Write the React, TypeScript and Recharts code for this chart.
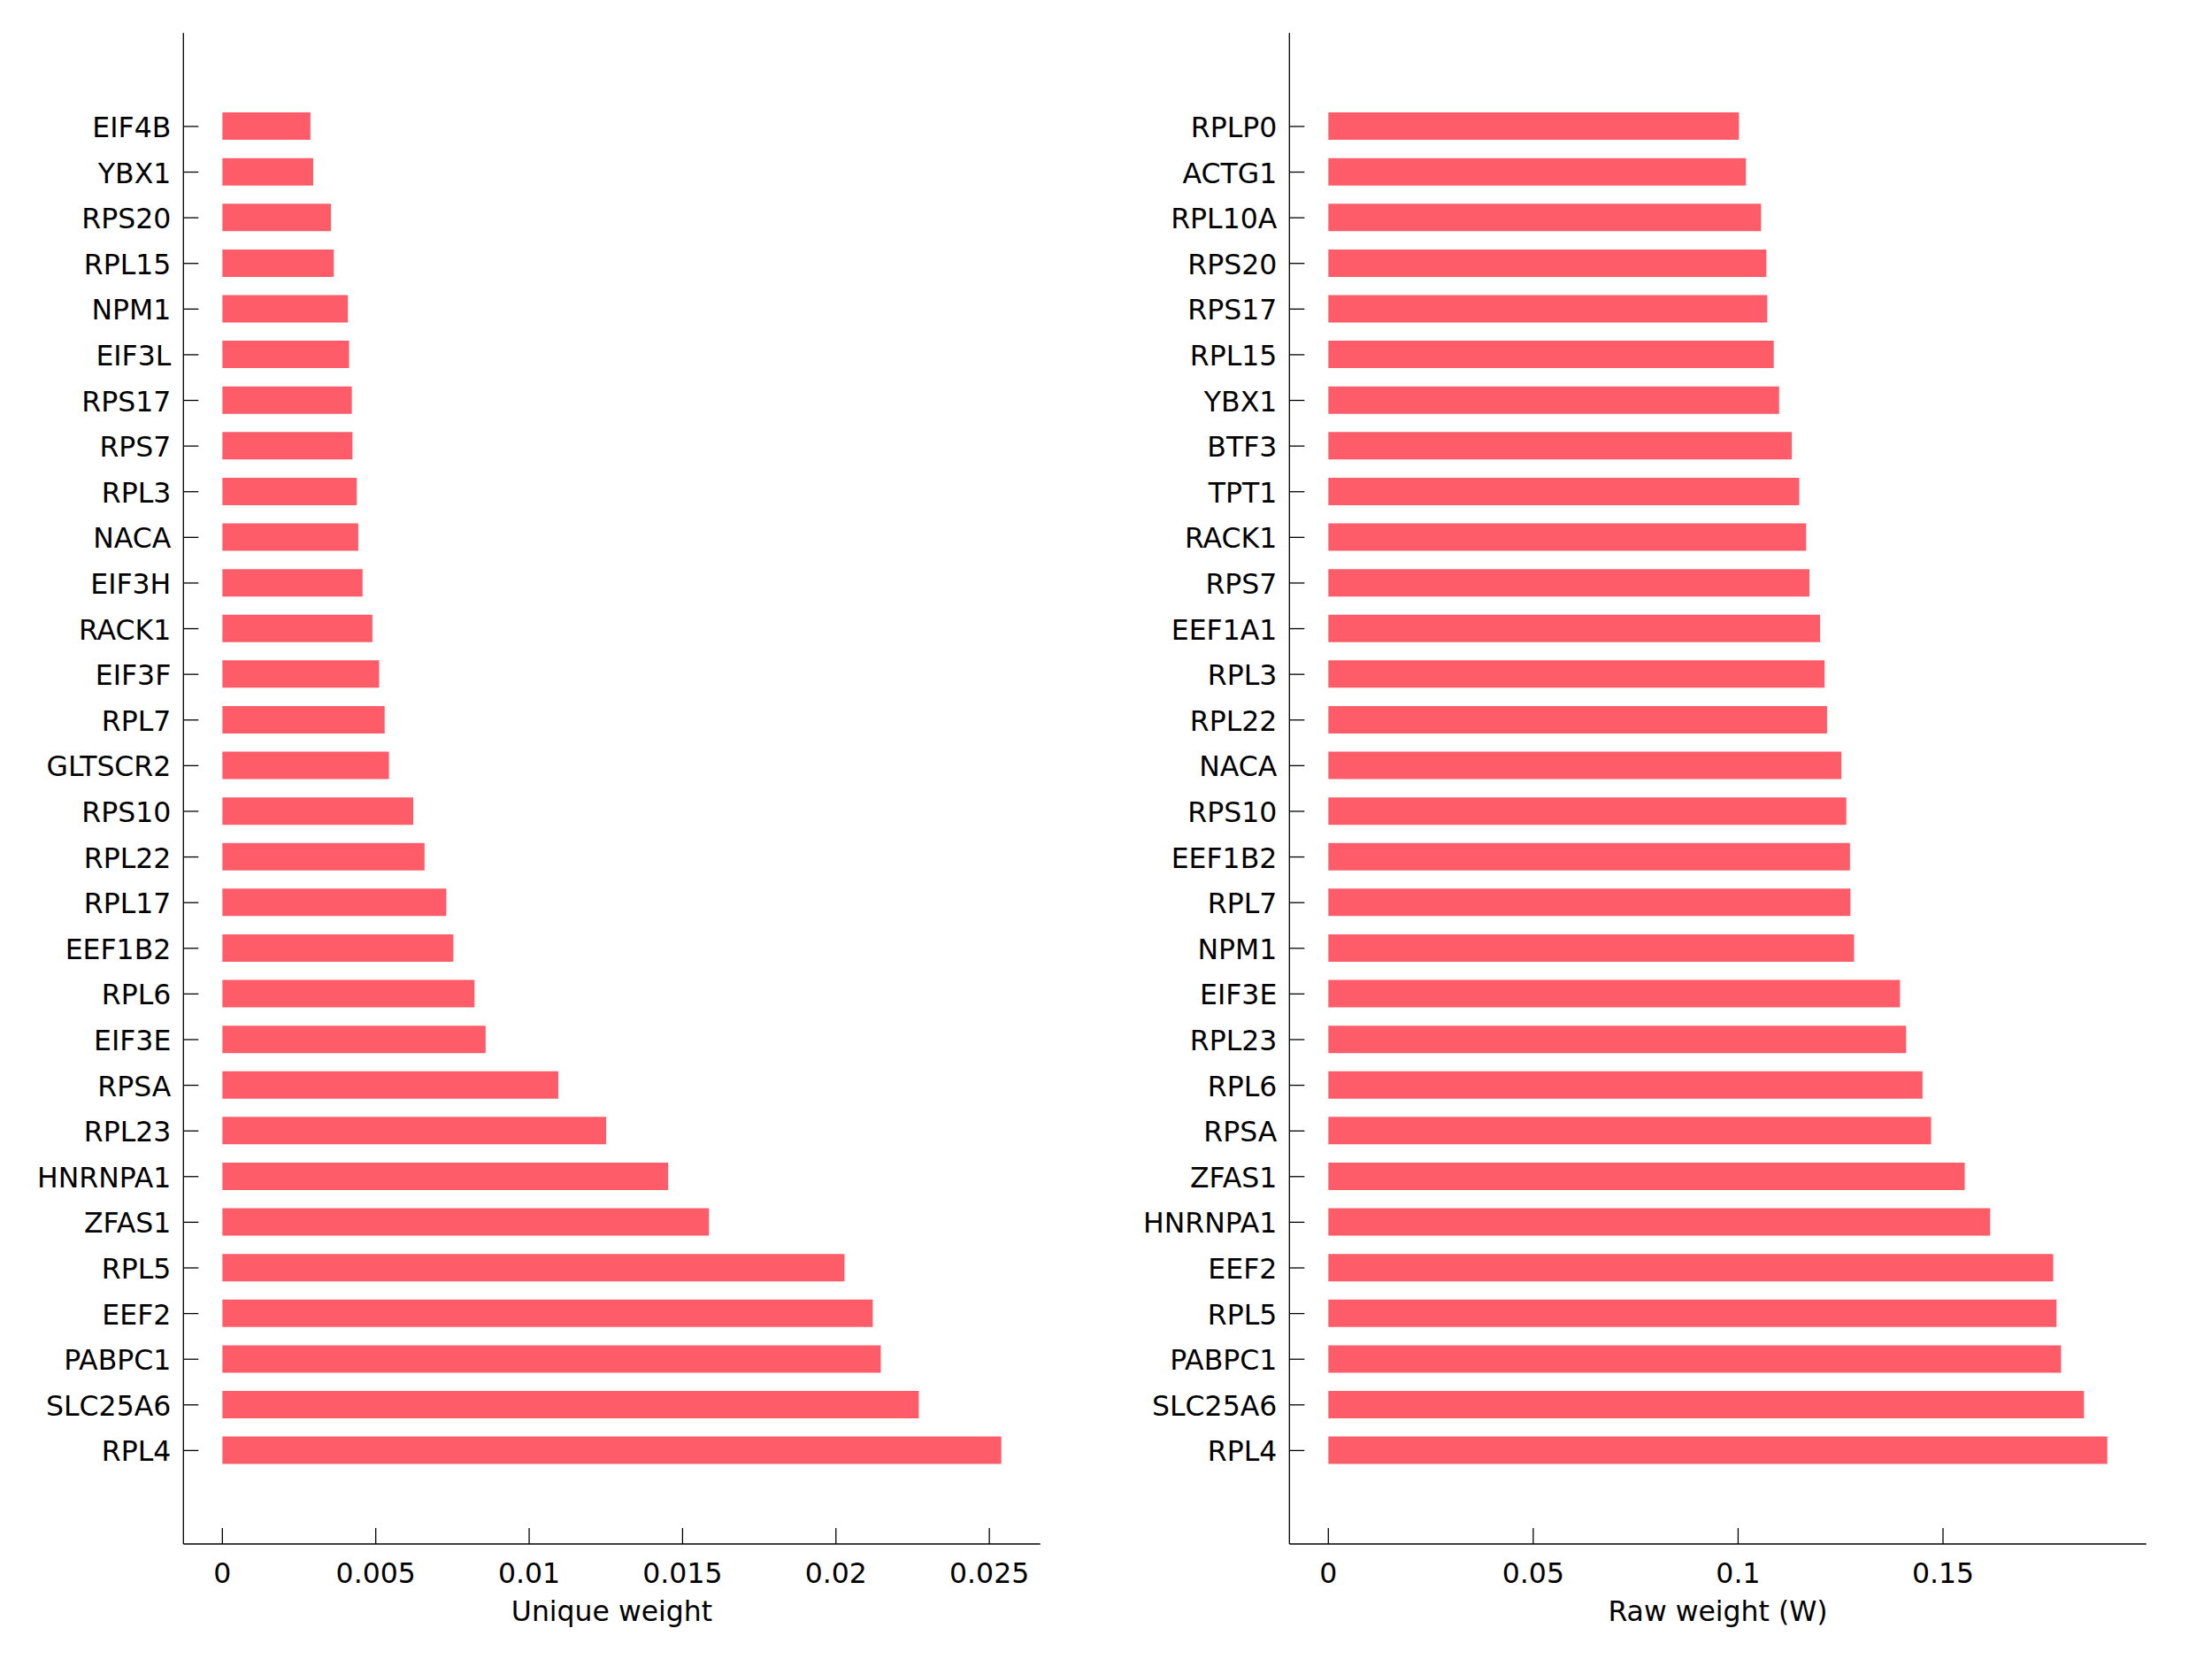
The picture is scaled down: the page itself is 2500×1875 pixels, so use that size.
import React from 'react';
import { BarChart, Bar, XAxis, YAxis } from 'recharts';

const uniqueGenes = [
  'EIF4B', 'YBX1', 'RPS20', 'RPL15', 'NPM1', 'EIF3L', 'RPS17', 'RPS7', 'RPL3', 'NACA',
  'EIF3H', 'RACK1', 'EIF3F', 'RPL7', 'GLTSCR2', 'RPS10', 'RPL22', 'RPL17', 'EEF1B2', 'RPL6',
  'EIF3E', 'RPSA', 'RPL23', 'HNRNPA1', 'ZFAS1', 'RPL5', 'EEF2', 'PABPC1', 'SLC25A6', 'RPL4'
];
const uniqueWeights = [
  0.00287, 0.00296, 0.00354, 0.00363, 0.00409, 0.00413, 0.00422, 0.00424, 0.00438, 0.00443,
  0.00457, 0.00489, 0.00511, 0.00529, 0.00543, 0.00622, 0.00659, 0.0073, 0.00753, 0.00822,
  0.00858, 0.01095, 0.01251, 0.01453, 0.01586, 0.02028, 0.0212, 0.02146, 0.0227, 0.02539
];

const rawGenes = [
  'RPLP0', 'ACTG1', 'RPL10A', 'RPS20', 'RPS17', 'RPL15', 'YBX1', 'BTF3', 'TPT1', 'RACK1',
  'RPS7', 'EEF1A1', 'RPL3', 'RPL22', 'NACA', 'RPS10', 'EEF1B2', 'RPL7', 'NPM1', 'EIF3E',
  'RPL23', 'RPL6', 'RPSA', 'ZFAS1', 'HNRNPA1', 'EEF2', 'RPL5', 'PABPC1', 'SLC25A6', 'RPL4'
];
const rawWeights = [
  0.1002, 0.1019, 0.1056, 0.1069, 0.1071, 0.1087, 0.11, 0.1131, 0.1149, 0.1166,
  0.1174, 0.12, 0.1211, 0.1217, 0.1252, 0.1264, 0.1273, 0.1274, 0.1283, 0.1395,
  0.141, 0.145, 0.1471, 0.1553, 0.1615, 0.1769, 0.1777, 0.1788, 0.1844, 0.1901
];

const uniqueTicks = [0, 0.005, 0.01, 0.015, 0.02, 0.025];
const uniqueTickLabels = ['0', '0.005', '0.01', '0.015', '0.02', '0.025'];
const rawTicks = [0, 0.05, 0.1, 0.15];
const rawTickLabels = ['0', '0.05', '0.1', '0.15'];

const uniqueDomain = [-0.00127, 0.02666];
const rawDomain = [-0.0095, 0.1996];

const BAR_COLOR = '#FF5C6A';
const FONT = '"DejaVu Sans", "Lucida Grande", sans-serif';
const FONT_SIZE = 31.5;

const GeneTick = (props: any) => {
  const { x, y, payload } = props;
  return (
    <g>
      <line x1={x} x2={x + 17} y1={y} y2={y} stroke="#000" strokeWidth={1.3} />
      <text x={x - 14} y={y} dy={12} textAnchor="end" fontFamily={FONT} fontSize={FONT_SIZE} fill="#000">
        {payload.value}
      </text>
    </g>
  );
};

const makeValueTick = (values: number[], labels: string[]) => (props: any) => {
  const { x, y, payload } = props;
  const idx = values.indexOf(payload.value);
  return (
    <g>
      <line x1={x} x2={x} y1={y} y2={y - 18} stroke="#000" strokeWidth={1.3} />
      <text x={x} y={y + 44} textAnchor="middle" fontFamily={FONT} fontSize={FONT_SIZE} fill="#000">
        {idx >= 0 ? labels[idx] : String(payload.value)}
      </text>
    </g>
  );
};

const makeTitle = (title: string) => (props: any) => {
  const vb = props.viewBox || { x: 207.3, y: 1745, width: 968.4 };
  return (
    <text x={vb.x + vb.width / 2} y={vb.y + 87} textAnchor="middle" fontFamily={FONT} fontSize={FONT_SIZE} fill="#000">
      {title}
    </text>
  );
};

interface PanelProps {
  names: string[];
  values: number[];
  ticks: number[];
  tickLabels: string[];
  domain: number[];
  title: string;
}

const Panel: React.FC<PanelProps> = ({ names, values, ticks, tickLabels, domain, title }) => {
  const data = names.map((name, i) => ({ name, value: values[i] }));
  return (
    <BarChart
      width={1250}
      height={1875}
      data={data}
      layout="vertical"
      margin={{ top: 37.3, right: 74.3, bottom: 0, left: 0 }}
    >
      <XAxis
        type="number"
        dataKey="value"
        domain={domain}
        ticks={ticks}
        allowDataOverflow
        height={130}
        axisLine={{ stroke: '#000', strokeWidth: 1.3 }}
        tickLine={false}
        tickSize={0}
        tickMargin={0}
        interval={0}
        tick={makeValueTick(ticks, tickLabels)}
        label={makeTitle(title)}
      />
      <YAxis
        type="category"
        dataKey="name"
        width={207.3}
        padding={{ top: 79.8, bottom: 79.8 }}
        axisLine={{ stroke: '#000', strokeWidth: 1.3 }}
        tickLine={false}
        tickSize={0}
        tickMargin={0}
        interval={0}
        tick={GeneTick}
      />
      <Bar dataKey="value" fill={BAR_COLOR} barSize={31} isAnimationActive={false} />
    </BarChart>
  );
};

export default function App() {
  return (
    <div style={{ position: 'absolute', left: 0, top: 0, width: 2500, height: 1875, background: '#fff', display: 'flex' }}>
      <Panel
        names={uniqueGenes}
        values={uniqueWeights}
        ticks={uniqueTicks}
        tickLabels={uniqueTickLabels}
        domain={uniqueDomain}
        title="Unique weight"
      />
      <Panel
        names={rawGenes}
        values={rawWeights}
        ticks={rawTicks}
        tickLabels={rawTickLabels}
        domain={rawDomain}
        title="Raw weight (W)"
      />
    </div>
  );
}
